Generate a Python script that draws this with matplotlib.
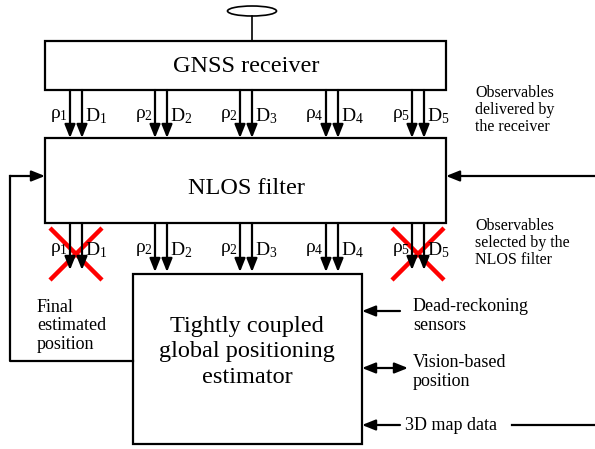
import matplotlib
matplotlib.use("Agg")
import matplotlib.pyplot as plt
from matplotlib.patches import Rectangle, Ellipse

# labels of the diagram
box_titles = ["GNSS receiver", "NLOS filter", "Tightly coupled\nglobal positioning\nestimator"]
pseudo_labels = ["1", "2", "2", "4", "5"]       # subscripts on rho
doppler_labels = ["1", "2", "3", "4", "5"]      # subscripts on D
rejected = [0, 4]                               # satellites removed by the NLOS filter
side_notes = ["Observables\ndelivered by\nthe receiver",
              "Observables\nselected by the\nNLOS filter"]
estimator_inputs = ["Dead-reckoning\nsensors", "Vision-based\nposition", "3D map data"]
feedback_label = "Final\nestimated\nposition"

plt.rcParams["font.family"] = ["Liberation Serif", "DejaVu Serif"]
INK = "black"
LW = 1.6
HEAD = "-|>,head_width=0.32,head_length=0.8"

fig = plt.figure(figsize=(5.95, 4.49), dpi=100)
ax = fig.add_axes([0, 0, 1, 1])
ax.set_xlim(0, 595)
ax.set_ylim(449, 0)
ax.axis("off")


def arrow(x0, y0, x1, y1, style=HEAD, ms=10):
    ax.annotate("", xy=(x1, y1), xytext=(x0, y0),
                arrowprops=dict(arrowstyle=style, color=INK, lw=LW,
                                mutation_scale=ms, shrinkA=0, shrinkB=0))


# antenna
ax.add_patch(Ellipse((252, 11), 49, 10, fc="white", ec=INK, lw=1.2))
ax.plot([252, 252], [16, 41], color=INK, lw=1.2)

# boxes
ax.add_patch(Rectangle((45, 41), 401, 49, fc="white", ec=INK, lw=LW))
ax.add_patch(Rectangle((45, 138), 401, 85, fc="white", ec=INK, lw=LW))
ax.add_patch(Rectangle((133, 274), 229, 170, fc="white", ec=INK, lw=LW))

ax.text(246, 66, box_titles[0], ha="center", va="center", fontsize=17.5)
ax.text(246, 188, box_titles[1], ha="center", va="center", fontsize=17.5)
ax.text(247, 352, box_titles[2], ha="center", va="center", fontsize=17.5,
        linespacing=1.3)

# observable arrows
pair_x = [70, 155, 240, 326, 412]
for i, x in enumerate(pair_x):
    for y0, y1, ylab in [(90, 138, 116), (223, 272, 250)]:
        end = y1 if (y0 == 90 or i not in rejected) else y1 - 2
        arrow(x, y0, x, end)
        arrow(x + 12, y0, x + 12, end)
        ax.text(x - 2, ylab, r"$\mathregular{\rho_{%s}}$" % pseudo_labels[i],
                ha="right", va="center", fontsize=14)
        ax.text(x + 15, ylab, r"$\mathregular{D_{%s}}$" % doppler_labels[i],
                ha="left", va="center", fontsize=14)

# red crosses on rejected observables
for i in rejected:
    x = pair_x[i] + 6
    ax.plot([x - 26, x + 26], [228, 280], color="red", lw=3.2, solid_capstyle="butt")
    ax.plot([x - 26, x + 26], [280, 228], color="red", lw=3.2, solid_capstyle="butt")

# side notes
ax.text(475, 110, side_notes[0], ha="left", va="center", fontsize=11.5, linespacing=1.1)
ax.text(475, 243, side_notes[1], ha="left", va="center", fontsize=11.5, linespacing=1.1)

# feedback loop
ax.plot([133, 10, 10], [361, 361, 176], color=INK, lw=LW)
arrow(10, 176, 45, 176)
ax.text(37, 326, feedback_label, ha="left", va="center", fontsize=13, linespacing=1.1)

# external input into NLOS filter
arrow(595, 176, 446, 176)

# estimator inputs
arrow(400, 311, 362, 311)
ax.text(413, 316, estimator_inputs[0], ha="left", va="center", fontsize=13, linespacing=1.1)
arrow(408, 368, 362, 368, style="<|-|>,head_width=0.32,head_length=0.8")
ax.text(413, 372, estimator_inputs[1], ha="left", va="center", fontsize=13, linespacing=1.1)
arrow(400, 425, 362, 425)
ax.text(405, 426, estimator_inputs[2], ha="left", va="center", fontsize=13)
ax.plot([512, 595], [425, 425], color=INK, lw=LW)

fig.savefig("out.png", dpi=100, facecolor="white")
